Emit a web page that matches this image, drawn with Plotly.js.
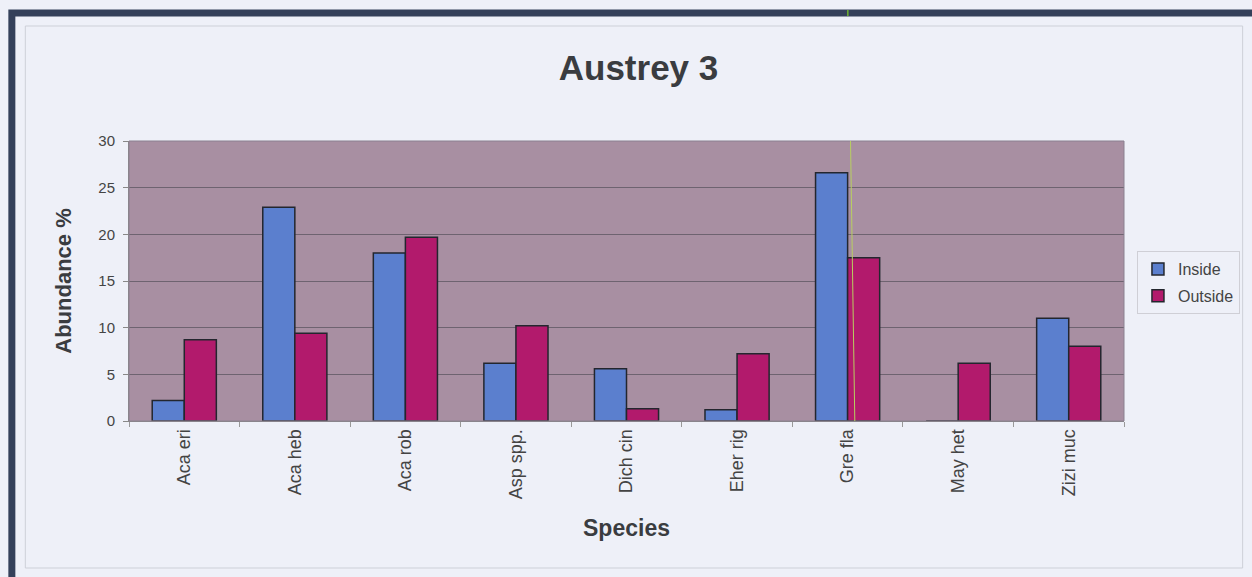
<!DOCTYPE html>
<html>
<head>
<meta charset="utf-8">
<script src="https://cdn.plot.ly/plotly-3.0.1.min.js"></script>
<style>
  html, body { margin: 0; padding: 0; background: #eceef6; }
  #chart { width: 1252px; height: 577px; }
</style>
</head>
<body>
<div id="chart"></div>
<script>
// Species abundance (%) inside and outside, site Austrey 3
const species = ["Aca eri", "Aca heb", "Aca rob", "Asp spp.", "Dich cin", "Eher rig", "Gre fla", "May het", "Zizi muc"];
const inside  = [2.2, 22.9, 18.0, 6.2, 5.6, 1.2, 26.6, 0, 11.0];
const outside = [8.7, 9.4, 19.7, 10.2, 1.3, 7.2, 17.5, 6.2, 8.0];
const yTicks  = [0, 5, 10, 15, 20, 25, 30];

// plot-area geometry in pixels, used to place the frame decorations
const W = 1252, H = 577;
const M = { l: 129, r: 125, t: 141, b: 156 };
const pw = W - M.l - M.r, ph = H - M.t - M.b;
const px = x => (x - M.l) / pw;
const py = y => (H - M.b - y) / ph;

const font = "Liberation Sans, Arial, sans-serif";

const traces = [
  {
    type: "bar", name: "Inside", x: species, y: inside, legendgroup: "in",
    marker: { color: "#5b7fce", line: { color: "#23262e", width: 1.5 } },
    hoverinfo: "x+y"
  },
  {
    type: "bar", name: "Outside", x: species, y: outside, legendgroup: "out",
    marker: { color: "#b21a6c", line: { color: "#23262e", width: 1.5 } },
    hoverinfo: "x+y"
  }
];

const layout = {
  width: W, height: H,
  margin: M,
  paper_bgcolor: "#eef0f8",
  plot_bgcolor: "#a88fa2",
  font: { family: font, color: "#333" },
  title: {
    text: "<b>Austrey 3</b>",
    font: { family: font, size: 35, color: "#3a3c40" },
    x: 0.51, xanchor: "center", y: 0.882, yanchor: "middle"
  },
  barmode: "group",
  bargap: 0.42,
  bargroupgap: 0,
  xaxis: {
    type: "category",
    tickangle: -90,
    ticks: "outside", ticklen: 5, tickcolor: "#999",
    tickson: "boundaries",
    tickfont: { size: 18, color: "#444" },
    showline: true, linecolor: "#888", linewidth: 1,
    showgrid: false,
    title: { text: "<b>Species</b>", font: { size: 23, color: "#3a3c40" }, standoff: 21 }
  },
  yaxis: {
    range: [0, 30],
    tickvals: yTicks,
    ticks: "outside", ticklen: 5, tickcolor: "#888",
    ticklabelstandoff: 5,
    tickfont: { size: 15, color: "#444" },
    showline: true, linecolor: "#888", linewidth: 1,
    showgrid: true, gridcolor: "#6e6370", gridwidth: 1,
    zeroline: false,
    title: { text: "<b>Abundance %</b>", font: { size: 22, color: "#3a3c40" }, standoff: 20 }
  },
  legend: {
    x: px(1140), y: py(251), xanchor: "left", yanchor: "top",
    bgcolor: "#eef0f8", bordercolor: "#cfcfd6", borderwidth: 1,
    font: { size: 16, color: "#444" },
    itemwidth: 30, tracegroupgap: 3, traceorder: "grouped"
  },
  showlegend: true,
  shapes: [
    // outer dark frame
    { type: "rect", xref: "paper", yref: "paper",
      x0: px(11.5), x1: px(1270), y0: py(13), y1: py(590),
      line: { color: "#34405a", width: 7 }, layer: "below" },
    // inner light frame
    { type: "rect", xref: "paper", yref: "paper",
      x0: px(25), x1: px(1246), y0: py(26), y1: py(568),
      line: { color: "#cdd0d8", width: 1 }, layer: "below" },
    // plot area border
    { type: "rect", xref: "paper", yref: "paper",
      x0: 0, x1: 1, y0: 0, y1: 1,
      line: { color: "#8a8090", width: 1 } },
    // faint green scan line through the plot area and the top frame
    { type: "line", xref: "paper", yref: "paper",
      x0: px(852.7), x1: px(857), y0: 1, y1: 0,
      line: { color: "#b8d060", width: 1 } },
    { type: "line", xref: "paper", yref: "paper",
      x0: px(850), x1: px(850), y0: py(10), y1: py(16),
      line: { color: "#6fb030", width: 1.5 } }
  ]
};

Plotly.newPlot("chart", traces, layout, { displayModeBar: false, staticPlot: true });
</script>
</body>
</html>
